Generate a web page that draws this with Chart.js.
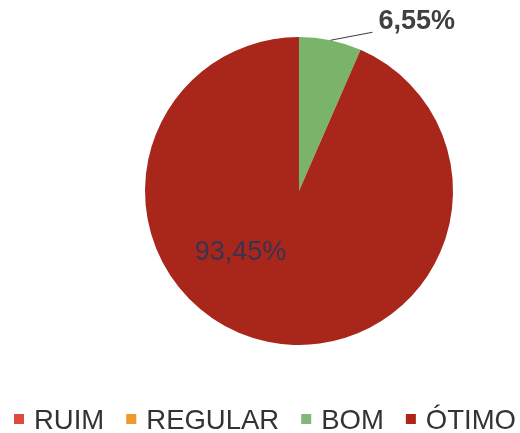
<!DOCTYPE html>
<html>
<head>
<meta charset="utf-8">
<script src="https://cdn.jsdelivr.net/npm/chart.js@4"></script>
<style>
  html, body { margin: 0; padding: 0; background: #ffffff; }
  canvas { display: block; }
</style>
</head>
<body>
<canvas id="myChart" width="520" height="433"></canvas>
<script>
var labels = ["RUIM", "REGULAR", "BOM", "ÓTIMO"];
var values = [0, 0, 6.55, 93.45];
var sliceColors = ["#e04a3c", "#ec9a2a", "#7ab46a", "#a8261a"];
var legendColors = ["#e04a3c", "#ec9a2a", "#80b878", "#b02418"];

var FONT = "'Liberation Sans', Arial, sans-serif";

function pct(v) {
  return v.toFixed(2).replace(".", ",") + "%";
}

// rótulos de porcentagem + legenda desenhada à mão
var labelPlugin = {
  id: "pieLabels",
  afterDatasetsDraw: function (chart) {
    var c = chart.ctx;
    var arcs = chart.getDatasetMeta(0).data;

    // BOM: linha de chamada para fora da fatia
    var bom = arcs[2];
    var mid = (bom.startAngle + bom.endAngle) / 2;
    var r = bom.outerRadius;
    var x0 = bom.x + Math.cos(mid) * r;
    var y0 = bom.y + Math.sin(mid) * r;
    var x1 = x0 + 42;
    var y1 = y0 - 8;
    c.save();
    c.strokeStyle = "#404040";
    c.lineWidth = 1.2;
    c.beginPath();
    c.moveTo(x0, y0);
    c.lineTo(x1, y1);
    c.stroke();
    c.fillStyle = "#404040";
    c.font = "bold 27px " + FONT;
    c.textAlign = "left";
    c.textBaseline = "middle";
    c.fillText(pct(values[2]), x1 + 6, y1 - 11);

    // ÓTIMO: rótulo dentro da fatia
    var ot = arcs[3];
    c.fillStyle = "#3a3350";
    c.font = "27px " + FONT;
    c.textAlign = "center";
    c.fillText(pct(values[3]), ot.x - 0.38 * ot.outerRadius, ot.y + 0.40 * ot.outerRadius);

    // legenda
    c.font = "27.5px " + FONT;
    c.textAlign = "left";
    var box = 10, gap = 10, itemGap = 22;
    var widths = labels.map(function (l) { return c.measureText(l).width; });
    var total = 0;
    widths.forEach(function (w) { total += box + gap + w; });
    total += itemGap * (labels.length - 1);
    var x = 265 - total / 2;
    var y = 419;
    for (var i = 0; i < labels.length; i++) {
      c.fillStyle = legendColors[i];
      c.fillRect(x, y - box / 2, box, box);
      c.fillStyle = "#333333";
      c.fillText(labels[i], x + box + gap, y + 2);
      x += box + gap + widths[i] + itemGap;
    }
    c.restore();
  }
};

var ctx = document.getElementById("myChart").getContext("2d");
var myChart = new Chart(ctx, {
  type: "pie",
  data: {
    labels: labels,
    datasets: [
      {
        data: values,
        backgroundColor: sliceColors,
        borderWidth: 0,
      },
    ],
  },
  options: {
    responsive: false,
    animation: false,
    layout: {
      padding: { top: 37, left: 78, right: 0, bottom: 88 },
    },
    plugins: {
      legend: { display: false },
      tooltip: { enabled: false },
    },
  },
  plugins: [labelPlugin],
});
</script>
</body>
</html>
